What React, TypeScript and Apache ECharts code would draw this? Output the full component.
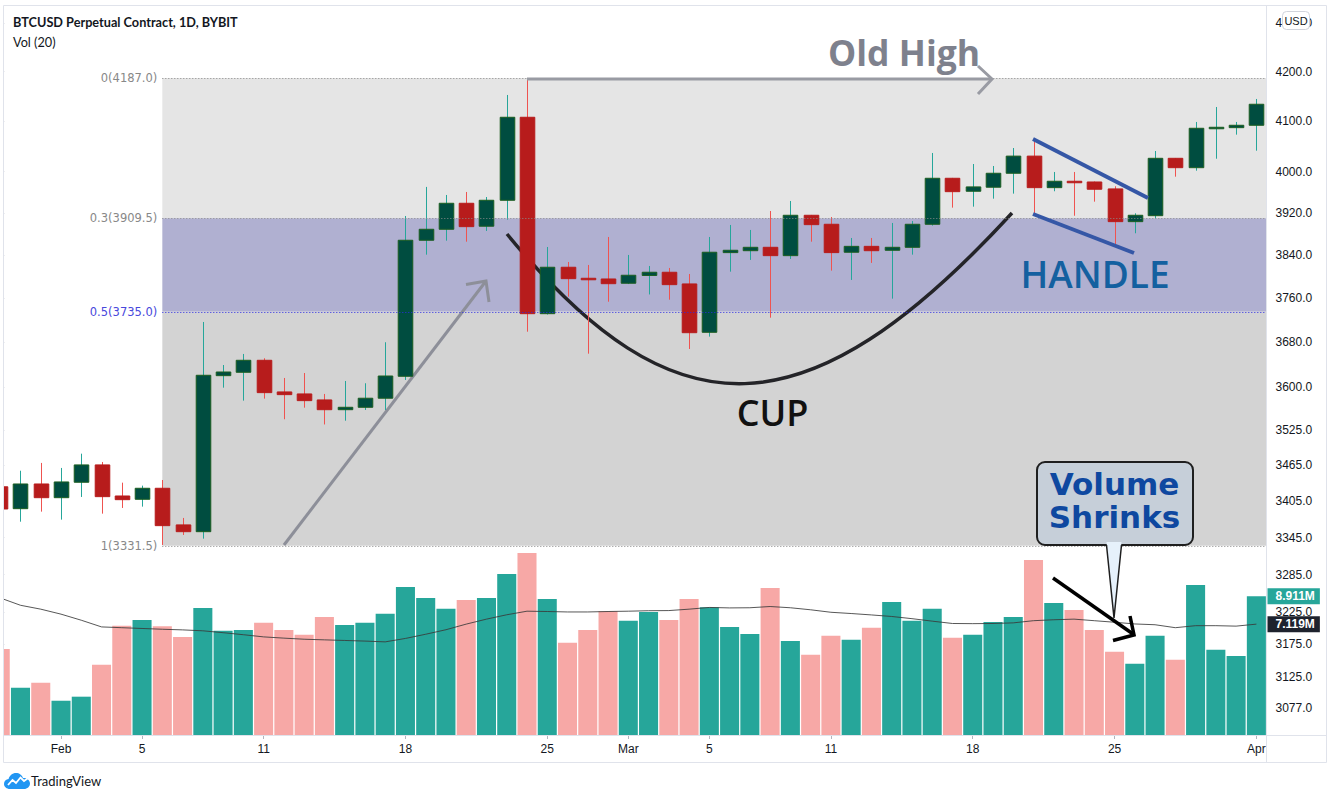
import React, { useEffect, useRef } from 'react';
import * as echarts from 'echarts';

// ---------------- DATA ----------------
const DATES = [
  '2019-01-29', '2019-01-30', '2019-01-31',
  '2019-02-01', '2019-02-02', '2019-02-03', '2019-02-04', '2019-02-05', '2019-02-06', '2019-02-07',
  '2019-02-08', '2019-02-09', '2019-02-10', '2019-02-11', '2019-02-12', '2019-02-13', '2019-02-14',
  '2019-02-15', '2019-02-16', '2019-02-17', '2019-02-18', '2019-02-19', '2019-02-20', '2019-02-21',
  '2019-02-22', '2019-02-23', '2019-02-24', '2019-02-25', '2019-02-26', '2019-02-27', '2019-02-28',
  '2019-03-01', '2019-03-02', '2019-03-03', '2019-03-04', '2019-03-05', '2019-03-06', '2019-03-07',
  '2019-03-08', '2019-03-09', '2019-03-10', '2019-03-11', '2019-03-12', '2019-03-13', '2019-03-14',
  '2019-03-15', '2019-03-16', '2019-03-17', '2019-03-18', '2019-03-19', '2019-03-20', '2019-03-21',
  '2019-03-22', '2019-03-23', '2019-03-24', '2019-03-25', '2019-03-26', '2019-03-27', '2019-03-28',
  '2019-03-29', '2019-03-30', '2019-03-31', '2019-04-01',
];

const OPEN = [
  3429.0, 3392.5, 3433.7,
  3410.8, 3436.6, 3465.8, 3413.6, 3408.1, 3426.5, 3365.7, 3354.6, 3620.3, 3626.3, 3647.6, 3591.6, 3588.1, 3577.6,
  3560.6, 3564.8, 3580.6, 3619.2, 3867.9, 3888.7, 3938.4, 3894.5, 3944.2, 4107.4, 3731.6, 3817.2, 3796.7, 3795.4,
  3787.5, 3801.9, 3807.9, 3786.2, 3697.8, 3844.6, 3848.2, 3854.6, 3838.9, 3915.4, 3898.2, 3845.3, 3856.4, 3849.0,
  3854.6, 3898.2, 3986.8, 3961.6, 3969.4, 3996.6, 4030.2, 3968.6, 3981.0, 3979.6, 3966.1, 3903.2, 3914.6, 4025.9,
  4007.5, 4084.6, 4086.6, 4091.4,
];
const CLOSE = [
  3392.0, 3433.7, 3410.8,
  3437.1, 3465.8, 3412.5, 3407.5, 3426.5, 3364.5, 3354.6, 3621.0, 3626.8, 3647.6, 3590.4, 3586.9, 3576.4, 3560.6,
  3564.8, 3580.6, 3619.7, 3867.9, 3888.7, 3938.4, 3893.7, 3944.2, 4107.4, 3731.6, 3817.2, 3796.0, 3794.2, 3786.7,
  3802.3, 3807.9, 3784.9, 3697.1, 3845.3, 3849.0, 3854.6, 3838.9, 3915.4, 3897.5, 3844.6, 3856.4, 3848.2, 3854.6,
  3898.2, 3986.8, 3960.8, 3970.0, 3996.6, 4030.2, 3968.6, 3981.0, 3978.3, 3965.5, 3903.2, 3915.4, 4025.9, 4007.5,
  4085.4, 4087.4, 4091.4, 4133.6,
];
const LOW = [
  3382.0, 3371.0, 3387.6,
  3374.4, 3412.0, 3384.3, 3393.7, 3395.9, 3332.9, 3349.2, 3343.2, 3599.1, 3576.4, 3579.9, 3544.0, 3564.1, 3535.0,
  3541.5, 3560.1, 3560.1, 3612.7, 3840.8, 3867.1, 3865.2, 3885.5, 3907.0, 3698.9, 3730.0, 3762.7, 3659.4, 3753.5,
  3786.0, 3766.8, 3757.2, 3667.8, 3690.0, 3809.0, 3830.9, 3724.3, 3832.7, 3865.2, 3810.9, 3793.6, 3825.3, 3759.1,
  3840.8, 3895.6, 3930.0, 3931.9, 3947.3, 3957.0, 3914.5, 3961.6, 3914.5, 3941.5, 3859.0, 3881.1, 3909.6, 3989.9,
  4001.6, 4025.1, 4072.7, 4040.9,
];
const HIGH = [
  3440.0, 3456.0, 3469.2,
  3460.7, 3484.9, 3470.8, 3435.9, 3430.9, 3440.4, 3377.2, 3716.5, 3639.2, 3658.9, 3651.2, 3616.2, 3625.0, 3588.1,
  3610.9, 3606.9, 3679.9, 3914.0, 3970.0, 3954.4, 3960.2, 3950.5, 4152.4, 4187.0, 3855.2, 3827.1, 3821.5, 3874.1,
  3840.2, 3819.6, 3815.9, 3804.7, 3874.1, 3896.9, 3887.4, 3923.6, 3942.8, 3916.0, 3912.1, 3872.2, 3872.2, 3900.7,
  3904.5, 4036.4, 3987.5, 4014.7, 4010.8, 4046.2, 4062.1, 3999.1, 3999.1, 3980.5, 3971.3, 3919.2, 4040.3, 4026.5,
  4098.0, 4128.1, 4098.0, 4144.3,
];

// Volume in millions
const VOLUME_M = [
  5.53, 3.03, 3.35,
  2.20, 2.46, 4.51, 7.01, 7.39, 6.99, 6.30, 8.16, 6.69, 6.75, 7.20, 6.75, 6.43, 7.58,
  7.07, 7.20, 7.78, 9.51, 8.80, 8.10, 8.67, 8.80, 10.34, 11.69, 8.74, 5.92, 6.75, 7.95,
  7.33, 7.90, 7.39, 8.74, 8.21, 6.94, 6.49, 9.44, 6.04, 5.15, 6.37, 6.11, 6.88, 8.54,
  7.33, 8.10, 6.24, 6.43, 7.26, 7.58, 11.24, 8.48, 8.03, 6.75, 5.34, 4.57, 6.37, 4.83,
  9.63, 5.47, 5.08, 8.911,
];
// Vol (20) moving average line (millions)
const VOLUME_MA_M = [
  8.80, 8.33, 8.08,
  7.76, 7.37, 6.94, 6.89, 6.84, 6.79, 6.75, 6.69, 6.57, 6.44, 6.30, 6.22, 6.15, 6.11,
  6.07, 6.03, 5.98, 6.20, 6.47, 6.76, 7.12, 7.44, 7.72, 7.95, 7.93, 7.90, 7.90, 7.93,
  7.95, 7.98, 7.99, 8.08, 8.19, 8.16, 8.17, 8.25, 8.17, 8.04, 7.88, 7.80, 7.71, 7.61,
  7.47, 7.31, 7.16, 7.15, 7.16, 7.20, 7.34, 7.40, 7.44, 7.34, 7.24, 7.13, 7.08, 6.89,
  7.02, 7.02, 6.99, 7.119,
];

const PRICE_TICKS = [4300, 4200, 4100, 4000, 3920, 3840, 3760, 3680, 3600, 3525, 3465, 3405, 3345, 3285, 3225, 3175, 3125, 3077];
const PRICE_MIN = 3037.4;
const PRICE_MAX = 4339.0;
const VOLUME_MAX_M = 12.2;

const FIB_LEVELS = ['0', '0.3', '0.5', '1'];
const FIB_PRICES = [4187.0, 3909.5, 3735.0, 3331.5];
const FIB_START_DATE = '2019-02-06';

const TICK_DATES = ['2019-02-01', '2019-02-05', '2019-02-11', '2019-02-18', '2019-02-25', '2019-03-01', '2019-03-05', '2019-03-11', '2019-03-18', '2019-03-25', '2019-04-01'];
const TICK_TEXTS = ['Feb', '5', '11', '18', '25', 'Mar', '5', '11', '18', '25', 'Apr'];

// ---------------- STYLES ----------------
const UP_BODY = '#004d40';
const UP_BORDER = '#1b5e20';
const UP_WICK = '#26a69a';
const DOWN_BODY = '#b71c1c';
const DOWN_WICK = '#ef5350';
const VOL_UP = '#26a69a';
const VOL_DOWN = '#f7a8a6';
const FIB_ZONE_COLORS = ['#e5e5e5', '#b0b0d1', '#d3d3d3'];
const FIB_LINE_COLORS = ['#8a8a8a', '#8a8a8a', '#2b2be6', '#8a8a8a'];
const FIB_LABEL_COLORS = ['#888888', '#888888', '#4848dc', '#888888'];
const FONT = '"Liberation Sans", Arial, sans-serif';

const TV_CLOUD = 'M6 16C2.7 16 0 13.8 0 11C0 8.4 2 6.4 4.6 6.1C5.3 2.6 8.4 0 12 0C15.3 0 18.1 2.1 19 5.1C19.3 5.1 19.6 5 20 5C23.3 5 26 7.5 26 10.5C26 13.5 23.3 16 20 16Z';
echarts.graphic.registerShape('tvCloud', echarts.graphic.extendPath(TV_CLOUD, {}));

function buildOption() {
  const ln = Math.log;
  const n = DATES.length;
  const xMax = n - 0.5;
  const fibStart = DATES.indexOf(FIB_START_DATE);
  const candleData = DATES.map((_, i) => [i, ln(OPEN[i]), ln(CLOSE[i]), ln(LOW[i]), ln(HIGH[i])]);
  const lastVol = VOLUME_M[n - 1];
  const lastMa = VOLUME_MA_M[n - 1];

  const fibZones = [0, 1, 2].map((k) => [
    { xAxis: fibStart, yAxis: ln(FIB_PRICES[k]), itemStyle: { color: FIB_ZONE_COLORS[k], opacity: 1 } },
    { xAxis: xMax, yAxis: ln(FIB_PRICES[k + 1]) },
  ]);
  const fibLines = FIB_PRICES.map((p, k) => [
    {
      xAxis: fibStart,
      yAxis: ln(p),
      lineStyle: { color: FIB_LINE_COLORS[k], type: [1, 2], width: 1 },
      label: {
        show: true,
        position: 'start',
        distance: 5,
        formatter: `${FIB_LEVELS[k]}(${p.toFixed(1)})`,
        color: FIB_LABEL_COLORS[k],
        fontSize: 11.5,
        fontFamily: '"DejaVu Sans", sans-serif',
        padding: [4, 0, 0, 0],
      },
    },
    { xAxis: xMax, yAxis: ln(p) },
  ]);

  const tickInterval = (_idx: number, val: string) => TICK_DATES.indexOf(val) >= 0;

  const gridCommon = { left: -9.9, right: 65.5, containLabel: false, outerBoundsMode: 'none' };

  return {
    animation: false,
    backgroundColor: '#ffffff',
    textStyle: { fontFamily: FONT },
    grid: [
      { ...gridCommon, top: 5, bottom: 61 },
      { ...gridCommon, top: 545, bottom: 61 },
    ],
    xAxis: [
      { type: 'value', gridIndex: 0, min: -0.5, max: xMax, show: false },
      {
        type: 'category',
        gridIndex: 1,
        data: DATES,
        boundaryGap: true,
        axisLine: { show: false },
        axisTick: { show: true, interval: tickInterval, alignWithLabel: true, length: 4, lineStyle: { color: '#b2b5be' } },
        axisLabel: {
          interval: tickInterval,
          formatter: (val: string) => TICK_TEXTS[TICK_DATES.indexOf(val)] ?? '',
          color: '#131722',
          fontSize: 12,
          margin: 8,
        },
        splitLine: { show: false },
      },
    ],
    yAxis: [
      {
        type: 'value',
        gridIndex: 0,
        position: 'right',
        min: ln(PRICE_MIN),
        max: ln(PRICE_MAX),
        axisLine: { show: false },
        axisTick: { show: true, customValues: PRICE_TICKS.map(ln), length: 4, lineStyle: { color: '#b2b5be' } },
        axisLabel: {
          customValues: PRICE_TICKS.map(ln),
          formatter: (v: number) => Math.exp(v).toFixed(1),
          color: '#131722',
          fontSize: 12,
          margin: 9,
        },
        splitLine: { show: false },
      },
      {
        type: 'value',
        gridIndex: 1,
        position: 'right',
        min: 0,
        max: VOLUME_MAX_M,
        axisLine: { show: false },
        axisTick: { show: false },
        splitLine: { show: false },
        axisLabel: {
          customValues: [lastVol, lastMa],
          margin: 1,
          formatter: (v: number) =>
            Math.abs(v - lastVol) < 1e-6 ? `{a|${v.toFixed(3)}M}` : `{b|${v.toFixed(3)}M}`,
          rich: {
            a: { backgroundColor: '#26a69a', color: '#ffffff', fontWeight: 'bold', fontSize: 12, padding: [2, 5, 2, 8], fontFamily: FONT },
            b: { backgroundColor: '#1e222d', color: '#ffffff', fontWeight: 'bold', fontSize: 12, padding: [2, 5, 2, 8], fontFamily: FONT },
          },
        },
      },
    ],
    series: [
      {
        type: 'custom',
        name: 'BTCUSD',
        xAxisIndex: 0,
        yAxisIndex: 0,
        data: candleData,
        encode: { x: 0, y: [1, 2, 3, 4] },
        z: 2,
        renderItem: (_params: any, api: any) => {
          const i = api.value(0);
          const o = api.value(1);
          const c = api.value(2);
          const l = api.value(3);
          const h = api.value(4);
          const pO = api.coord([i, o]);
          const pC = api.coord([i, c]);
          const pL = api.coord([i, l]);
          const pH = api.coord([i, h]);
          const w = api.size([1, 0])[0] * 0.72;
          const x = Math.round(pO[0]) + 0.5;
          const up = c >= o;
          const top = Math.min(pO[1], pC[1]);
          const hgt = Math.max(Math.abs(pO[1] - pC[1]), 1.5);
          return {
            type: 'group',
            children: [
              {
                type: 'line',
                shape: { x1: x, y1: pH[1], x2: x, y2: pL[1] },
                style: { stroke: up ? UP_WICK : DOWN_WICK, lineWidth: 1 },
              },
              {
                type: 'rect',
                shape: { x: x - w / 2, y: top, width: w, height: hgt },
                style: { fill: up ? UP_BODY : DOWN_BODY, stroke: up ? UP_BORDER : DOWN_BODY, lineWidth: 1 },
              },
            ],
          };
        },
        markArea: { silent: true, label: { show: false }, data: fibZones },
        markLine: { silent: true, symbol: ['none', 'none'], data: fibLines },
      },
      {
        type: 'bar',
        name: 'Volume',
        xAxisIndex: 1,
        yAxisIndex: 1,
        barCategoryGap: '6%',
        data: VOLUME_M.map((v, i) => ({ value: v, itemStyle: { color: CLOSE[i] >= OPEN[i] ? VOL_UP : VOL_DOWN } })),
        z: 2,
      },
      {
        type: 'line',
        name: 'Vol MA',
        xAxisIndex: 1,
        yAxisIndex: 1,
        data: VOLUME_MA_M,
        symbol: 'none',
        lineStyle: { color: '#3a3a3a', width: 1, opacity: 0.85 },
        z: 3,
      },
    ],
    graphic: [
      // left clip & frame
      { type: 'rect', z: 100, silent: true, shape: { x: 0, y: 0, width: 3, height: 796 }, style: { fill: '#ffffff' } },
      { type: 'rect', z: 101, silent: true, shape: { x: 3.5, y: 5.5, width: 1323, height: 757 }, style: { fill: 'none', stroke: '#e0e3eb', lineWidth: 1 } },
      { type: 'line', z: 101, silent: true, shape: { x1: 1266.5, y1: 5, x2: 1266.5, y2: 763 }, style: { stroke: '#e0e3eb', lineWidth: 1 } },
      { type: 'line', z: 101, silent: true, shape: { x1: 3, y1: 735.5, x2: 1327, y2: 735.5 }, style: { stroke: '#e0e3eb', lineWidth: 1 } },

      // header
      { type: 'text', z: 100, style: { x: 13, y: 21.5, text: 'BTCUSD Perpetual Contract, 1D, BYBIT', font: 'bold 12.7px Lato', fill: '#131722', textVerticalAlign: 'middle', verticalAlign: 'middle' } },
      { type: 'text', z: 100, style: { x: 13, y: 41.5, text: 'Vol (20)', font: '12.7px Lato', fill: '#131722', textVerticalAlign: 'middle', verticalAlign: 'middle' } },

      // USD badge
      { type: 'rect', z: 100, shape: { x: 1282.5, y: 11.5, width: 27, height: 18, r: 4 }, style: { fill: '#ffffff', stroke: '#d1d4dc', lineWidth: 1 } },
      { type: 'text', z: 101, style: { x: 1296, y: 20.5, text: 'USD', font: '11px ' + FONT, fill: '#131722', textAlign: 'center', align: 'center', textVerticalAlign: 'middle', verticalAlign: 'middle' } },

      // Old High arrow + text
      { type: 'line', z: 10, shape: { x1: 527, y1: 79, x2: 992, y2: 79 }, style: { stroke: '#999ba3', lineWidth: 3 } },
      { type: 'polyline', z: 10, shape: { points: [[978, 66], [992, 79], [978, 94]] }, style: { stroke: '#999ba3', lineWidth: 3, fill: 'none' } },
      { type: 'text', z: 10, style: { x: 828, y: 52, text: 'Old High', font: 'bold 35.5px "Open Sans"', fill: '#7e818d', textVerticalAlign: 'middle', verticalAlign: 'middle' } },

      // diagonal arrow
      { type: 'line', z: 1.5, shape: { x1: 284, y1: 545, x2: 486, y2: 281 }, style: { stroke: '#8d8f99', lineWidth: 3 } },
      { type: 'polyline', z: 1.5, shape: { points: [[466, 284.5], [486, 281], [489, 302]] }, style: { stroke: '#8d8f99', lineWidth: 3, fill: 'none' } },

      // cup curve
      { type: 'bezierCurve', z: 1.5, shape: { x1: 507, y1: 234, cpx1: 674, cpy1: 437, cpx2: 806, cpy2: 437, x2: 1012, y2: 213 }, style: { stroke: '#242428', lineWidth: 3.5, fill: 'none' } },
      { type: 'text', z: 10, style: { x: 772.5, y: 412, text: 'CUP', font: '600 36px "Open Sans"', fill: '#111111', textAlign: 'center', align: 'center', textVerticalAlign: 'middle', verticalAlign: 'middle' } },

      // handle lines
      { type: 'line', z: 10, shape: { x1: 1033, y1: 139, x2: 1148, y2: 198 }, style: { stroke: '#3557a6', lineWidth: 4 } },
      { type: 'line', z: 10, shape: { x1: 1033, y1: 214, x2: 1134, y2: 253 }, style: { stroke: '#3557a6', lineWidth: 4 } },
      { type: 'text', z: 10, style: { x: 1095, y: 273, text: 'HANDLE', font: '600 37px "Open Sans"', fill: '#1460a0', textAlign: 'center', align: 'center', textVerticalAlign: 'middle', verticalAlign: 'middle' } },

      // Volume Shrinks callout
      { type: 'rect', z: 20, shape: { x: 1037, y: 462, width: 156, height: 83, r: 8 }, style: { fill: '#c6cfd9', stroke: '#1f1f1f', lineWidth: 2 } },
      { type: 'polygon', z: 21, shape: { points: [[1106.5, 542], [1114, 618], [1121.5, 542]] }, style: { fill: '#e6f1fb' } },
      { type: 'polyline', z: 21, shape: { points: [[1106.5, 545], [1114, 618], [1121.5, 545]] }, style: { stroke: '#1f1f1f', lineWidth: 1.5, fill: 'none' } },
      { type: 'text', z: 22, style: { x: 1114.5, y: 484, text: 'Volume', font: 'bold 31px "DejaVu Sans"', fill: '#0e48a0', textAlign: 'center', align: 'center', textVerticalAlign: 'middle', verticalAlign: 'middle' } },
      { type: 'text', z: 22, style: { x: 1114.5, y: 517, text: 'Shrinks', font: 'bold 31px "DejaVu Sans"', fill: '#0e48a0', textAlign: 'center', align: 'center', textVerticalAlign: 'middle', verticalAlign: 'middle' } },

      // black arrow
      { type: 'line', z: 20, shape: { x1: 1053, y1: 578, x2: 1133, y2: 634 }, style: { stroke: '#000000', lineWidth: 3.5 } },
      { type: 'polyline', z: 20, shape: { points: [[1130, 616], [1134, 635], [1113, 640.5]] }, style: { stroke: '#000000', lineWidth: 3.5, fill: 'none' } },

      // TradingView logo
      { type: 'tvCloud', z: 100, x: 4, y: 773, style: { fill: '#2196f3' } },
      { type: 'polyline', z: 101, shape: { points: [[8, 785], [12.5, 780], [16, 783], [20.5, 777.5], [24, 781], [27.5, 778.5]] }, style: { stroke: '#ffffff', lineWidth: 1.8, fill: 'none' } },
      { type: 'text', z: 100, style: { x: 31, y: 781, text: 'TradingView', font: '13px Lato', fill: '#131722', textVerticalAlign: 'middle', verticalAlign: 'middle' } },
    ],
  };
}

export default function App() {
  const ref = useRef<HTMLDivElement>(null);
  useEffect(() => {
    document.body.style.margin = '0';
    const chart = echarts.init(ref.current as HTMLDivElement, null, { renderer: 'svg' });
    chart.setOption(buildOption() as any);
    return () => chart.dispose();
  }, []);
  return <div ref={ref} style={{ position: 'absolute', left: 0, top: 0, width: 1332, height: 796, background: '#ffffff' }} />;
}
